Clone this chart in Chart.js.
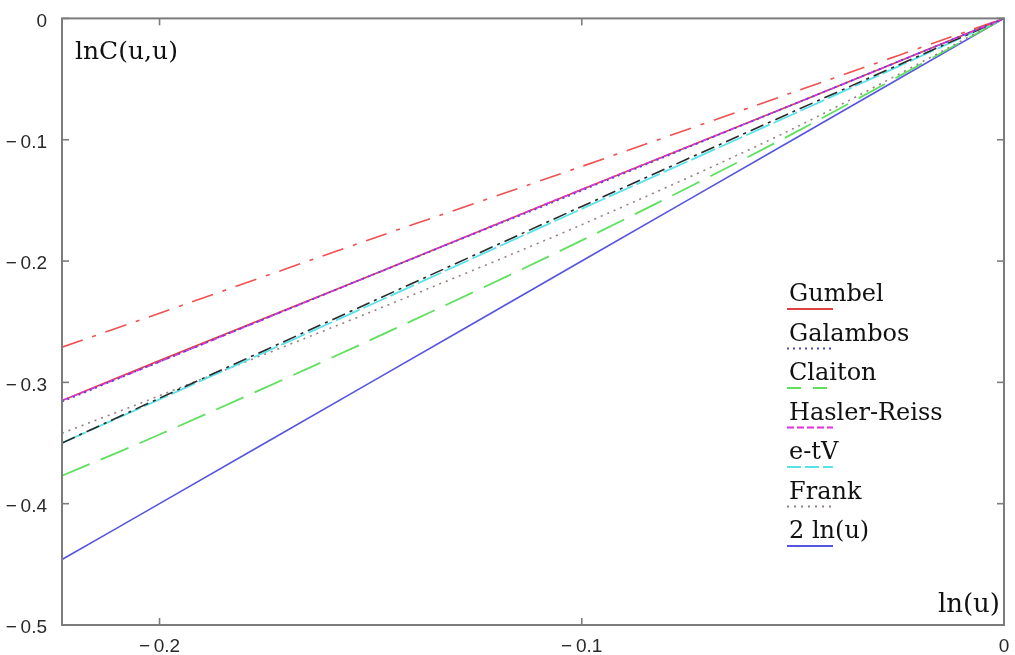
<!DOCTYPE html>
<html>
<head>
<meta charset="utf-8">
<script src="https://cdn.jsdelivr.net/npm/chart.js@4.4.1/dist/chart.umd.min.js"></script>
<style>
  html, body { margin: 0; padding: 0; background: #ffffff; }
  #wrap { width: 1015px; height: 655px; position: relative; }
</style>
</head>
<body>
<div id="wrap"><canvas id="c" width="1015" height="655"></canvas></div>
<script>
// ---- data ----
const xLn = [-0.2231, -0.2, -0.15, -0.1, -0.05, 0];            // ln(u)
const gumbel      = [-0.315, -0.282, -0.212, -0.141, -0.071, 0];
const galambos    = [-0.316, -0.283, -0.212, -0.142, -0.071, 0];
const haslerReiss = [-0.315, -0.283, -0.212, -0.141, -0.071, 0];
const etV         = [-0.350, -0.314, -0.236, -0.157, -0.079, 0];
const frank       = [-0.342, -0.311, -0.242, -0.170, -0.091, 0];
const claiton     = [-0.377, -0.343, -0.265, -0.183, -0.095, 0];
const twoLnU      = [-0.446, -0.400, -0.300, -0.200, -0.100, 0];
const extraRed    = [-0.271, -0.243, -0.182, -0.122, -0.061, 0]; // unlabeled dash-dot
const extraBlack  = [-0.350, -0.313, -0.234, -0.155, -0.077, 0]; // unlabeled dash-dot
const xTicks = [-0.2, -0.1, 0];
const yTicks = [0, -0.1, -0.2, -0.3, -0.4, -0.5];
const yTitle = 'lnC(u,u)';
const xTitle = 'ln(u)';

const pts = arr => arr.map((v, i) => ({ x: xLn[i], y: v }));
const fmt = v => (Math.abs(v) < 1e-9 ? '0' : '\u2212\u2009' + Math.abs(v).toFixed(1));

const ds = (label, arr, color, dash, width, legend) => ({
  label, data: pts(arr), borderColor: color, backgroundColor: color,
  borderDash: dash, borderWidth: width, showLine: true, pointRadius: 0,
  fill: false, tension: 0.3, inLegend: legend
});

// first dataset is drawn on top
const datasets = [
  ds('Galambos', galambos, '#4a4ad8', [2, 4], 1.6, true),
  ds('Hasler-Reiss', haslerReiss, '#e030e0', [7, 3], 1.6, true),
  ds('Gumbel', gumbel, '#e04040', [], 1.6, true),
  ds('', extraBlack, '#2a2a2a', [14, 5, 3, 5], 1.6, false),
  ds('e-tV', etV, '#5ae2ea', [26, 4], 1.8, true),
  ds('Frank', frank, '#9a7f7f', [2, 5], 1.6, true),
  ds('Claiton', claiton, '#5fe05f', [30, 12], 1.8, true),
  ds('', extraRed, '#f05050', [22, 10, 4, 10], 1.6, false),
  ds('2 ln(u)', twoLnU, '#5555e0', [], 1.6, true)
];
const legendOrder = ['Gumbel', 'Galambos', 'Claiton', 'Hasler-Reiss', 'e-tV', 'Frank', '2 ln(u)'];

const deco = {
  id: 'deco',
  afterDraw(chart) {
    const { ctx, chartArea: a, scales: { x, y } } = chart;
    ctx.save();
    const line = (x1, y1, x2, y2) => { ctx.beginPath(); ctx.moveTo(x1, y1); ctx.lineTo(x2, y2); ctx.stroke(); };
    // frame
    ctx.strokeStyle = '#7c7c7c';
    ctx.lineWidth = 2;
    ctx.strokeRect(a.left, a.top, a.right - a.left, a.bottom - a.top);
    // inward ticks
    ctx.lineWidth = 1.6;
    xTicks.forEach(v => {
      const px = x.getPixelForValue(v);
      line(px, a.bottom, px, a.bottom - 7);
      line(px, a.top, px, a.top + 7);
    });
    yTicks.forEach(v => {
      const py = y.getPixelForValue(v);
      line(a.left, py, a.left + 7, py);
      line(a.right, py, a.right - 7, py);
    });
    // axis titles
    ctx.fillStyle = '#111';
    ctx.textBaseline = 'alphabetic';
    ctx.font = '25px "DejaVu Serif"';
    ctx.textAlign = 'left';
    ctx.fillText(yTitle, a.left + 13, a.top + 41);
    ctx.font = '26px "DejaVu Serif"';
    ctx.textAlign = 'right';
    ctx.fillText(xTitle, a.right - 4, a.bottom - 13);
    // legend
    ctx.textAlign = 'left';
    ctx.font = '24px "DejaVu Serif"';
    const lx = a.left + 725, ly0 = 301, step = 39.5, sw = 46;
    legendOrder.forEach((name, i) => {
      const d = chart.data.datasets.find(s => s.label === name);
      const by = ly0 + i * step;
      ctx.fillStyle = '#111';
      ctx.fillText(name, lx + 2, by);
      ctx.strokeStyle = d.borderColor;
      ctx.lineWidth = 2;
      ctx.setLineDash(d.borderDash.length ? d.borderDash.map(v => Math.min(v, 14)) : []);
      line(lx, by + 8, lx + sw, by + 8);
      ctx.setLineDash([]);
    });
    ctx.restore();
  }
};

new Chart(document.getElementById('c'), {
  type: 'scatter',
  data: { datasets },
  options: {
    responsive: false,
    animation: false,
    devicePixelRatio: 1,
    layout: { padding: { left: 0, top: 16, right: 11, bottom: 0 } },
    plugins: { legend: { display: false }, tooltip: { enabled: false } },
    scales: {
      x: {
        type: 'linear', min: xLn[0], max: 0,
        grid: { display: false }, border: { display: false },
        afterBuildTicks: s => { s.ticks = xTicks.map(v => ({ value: v })); },
        afterFit: s => { s.height = 30; },
        ticks: { callback: fmt, autoSkip: false, maxRotation: 0, padding: 2,
                 color: '#2a2a2a', font: { family: '"Liberation Sans"', size: 19 } }
      },
      y: {
        type: 'linear', min: -0.5, max: 0,
        grid: { display: false }, border: { display: false },
        afterBuildTicks: s => { s.ticks = yTicks.map(v => ({ value: v })); },
        afterFit: s => { s.width = 62; },
        ticks: { callback: fmt, autoSkip: false, padding: 7, labelOffset: 3,
                 color: '#2a2a2a', font: { family: '"Liberation Sans"', size: 19 } }
      }
    }
  },
  plugins: [deco]
});
</script>
</body>
</html>
